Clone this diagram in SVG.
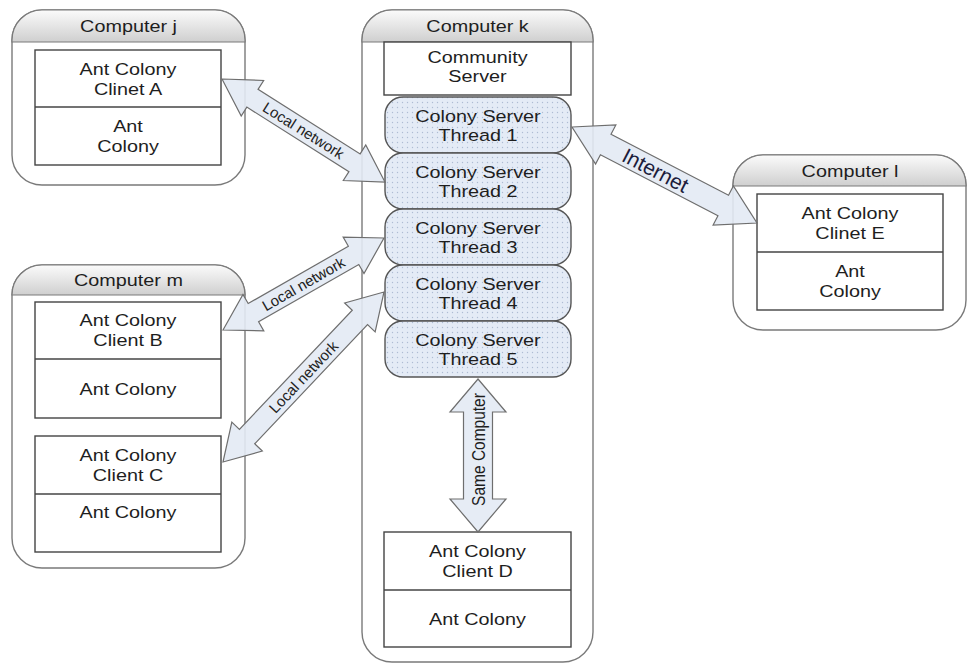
<svg xmlns="http://www.w3.org/2000/svg" width="968" height="663" viewBox="0 0 968 663">
<defs>
<linearGradient id="hdr" x1="0" y1="0" x2="0" y2="1">
<stop offset="0" stop-color="#fbfbfb"/>
<stop offset="1" stop-color="#cfcfcf"/>
</linearGradient>
<pattern id="dots" width="5" height="5" patternUnits="userSpaceOnUse">
<rect width="5" height="5" fill="#e4ebf6"/>
<circle cx="2.5" cy="2.5" r="0.7" fill="#aebcd4"/>
</pattern>
<style>
.outer{fill:#fff;stroke:#7a7a7a;stroke-width:1.4}
.hdr{fill:url(#hdr);stroke:#7a7a7a;stroke-width:1.2}
.box{fill:#fff;stroke:#444;stroke-width:1.4}
.div{stroke:#444;stroke-width:1.4}
.thr{fill:url(#dots);stroke:#555;stroke-width:1.4}
.t{font-family:"Liberation Sans",Arial,sans-serif;font-size:16.5px;fill:#1e1e1e;text-anchor:middle}
.arr{fill:#e3eaf4;fill-opacity:0.9;stroke:#6e6e6e;stroke-width:1.2;stroke-linejoin:miter}
.lbl{font-family:"Liberation Sans",Arial,sans-serif;font-size:15px;fill:#222;text-anchor:middle}
.inet{font-family:"Liberation Sans",Arial,sans-serif;font-size:21px;fill:#1c1c3c;text-anchor:middle}
</style>
</defs>
<rect width="968" height="663" fill="#fff"/>

<g id="computer-j">
<rect class="outer" x="12" y="10" width="233" height="175" rx="30"/>
<path class="hdr" d="M12,42 V40 A30,30 0 0 1 42,10 H215 A30,30 0 0 1 245,40 V42 Z"/>
<text class="t" transform="matrix(1.2 0 0 1 128.5 32)">Computer j</text>
<rect class="box" x="35" y="50" width="186" height="115"/>
<line class="div" x1="35" y1="107" x2="221" y2="107"/>
<text class="t" transform="matrix(1.2 0 0 1 128 75)">Ant Colony</text>
<text class="t" transform="matrix(1.2 0 0 1 128 95)">Clinet A</text>
<text class="t" transform="matrix(1.2 0 0 1 128 132)">Ant</text>
<text class="t" transform="matrix(1.2 0 0 1 128 152)">Colony</text>
</g>

<g id="computer-m">
<rect class="outer" x="12" y="265" width="233" height="303" rx="30"/>
<path class="hdr" d="M12,295 A30,30 0 0 1 42,265 H215 A30,30 0 0 1 245,295 Z"/>
<text class="t" transform="matrix(1.2 0 0 1 128.5 286)">Computer m</text>
<rect class="box" x="35" y="302" width="186" height="116"/>
<line class="div" x1="35" y1="359" x2="221" y2="359"/>
<text class="t" transform="matrix(1.2 0 0 1 128 326)">Ant Colony</text>
<text class="t" transform="matrix(1.2 0 0 1 128 346)">Client B</text>
<text class="t" transform="matrix(1.2 0 0 1 128 394.5)">Ant Colony</text>
<rect class="box" x="35" y="436" width="186" height="116"/>
<line class="div" x1="35" y1="494" x2="221" y2="494"/>
<text class="t" transform="matrix(1.2 0 0 1 128 461)">Ant Colony</text>
<text class="t" transform="matrix(1.2 0 0 1 128 481)">Client C</text>
<text class="t" transform="matrix(1.2 0 0 1 128 518)">Ant Colony</text>
</g>

<g id="computer-k">
<rect class="outer" x="362" y="10" width="231" height="652" rx="30"/>
<path class="hdr" d="M362,42 V40 A30,30 0 0 1 392,10 H563 A30,30 0 0 1 593,40 V42 Z"/>
<text class="t" transform="matrix(1.2 0 0 1 477.5 32)">Computer k</text>
<g id="community-server">
<rect class="box" x="384" y="42" width="187" height="53"/>
<text class="t" transform="matrix(1.2 0 0 1 477.5 63)">Community</text>
<text class="t" transform="matrix(1.2 0 0 1 477.5 82)">Server</text>
</g>
<g id="thread-1">
<rect class="thr" x="385" y="97" width="186" height="56" rx="18"/>
<text class="t" transform="matrix(1.2 0 0 1 478 122)">Colony Server</text>
<text class="t" transform="matrix(1.2 0 0 1 478 141)">Thread 1</text>
</g>
<g id="thread-2">
<rect class="thr" x="385" y="153" width="186" height="56" rx="18"/>
<text class="t" transform="matrix(1.2 0 0 1 478 178)">Colony Server</text>
<text class="t" transform="matrix(1.2 0 0 1 478 197)">Thread 2</text>
</g>
<g id="thread-3">
<rect class="thr" x="385" y="209" width="186" height="56" rx="18"/>
<text class="t" transform="matrix(1.2 0 0 1 478 234)">Colony Server</text>
<text class="t" transform="matrix(1.2 0 0 1 478 253)">Thread 3</text>
</g>
<g id="thread-4">
<rect class="thr" x="385" y="265" width="186" height="56" rx="18"/>
<text class="t" transform="matrix(1.2 0 0 1 478 290)">Colony Server</text>
<text class="t" transform="matrix(1.2 0 0 1 478 309)">Thread 4</text>
</g>
<g id="thread-5">
<rect class="thr" x="385" y="321" width="186" height="56" rx="18"/>
<text class="t" transform="matrix(1.2 0 0 1 478 346)">Colony Server</text>
<text class="t" transform="matrix(1.2 0 0 1 478 365)">Thread 5</text>
</g>
<g id="client-d">
<rect class="box" x="384" y="532" width="187" height="115"/>
<line class="div" x1="384" y1="590" x2="571" y2="590"/>
<text class="t" transform="matrix(1.2 0 0 1 477.5 557)">Ant Colony</text>
<text class="t" transform="matrix(1.2 0 0 1 477.5 577)">Client D</text>
<text class="t" transform="matrix(1.2 0 0 1 477.5 624.5)">Ant Colony</text>
</g>
</g>

<g id="computer-l">
<rect class="outer" x="733" y="155" width="233" height="175" rx="30"/>
<path class="hdr" d="M733,186 V185 A30,30 0 0 1 763,155 H936 A30,30 0 0 1 966,185 V186 Z"/>
<text class="t" transform="matrix(1.2 0 0 1 850 176.5)">Computer l</text>
<rect class="box" x="757" y="194" width="186" height="116"/>
<line class="div" x1="757" y1="252" x2="943" y2="252"/>
<text class="t" transform="matrix(1.2 0 0 1 850 219)">Ant Colony</text>
<text class="t" transform="matrix(1.2 0 0 1 850 239)">Clinet E</text>
<text class="t" transform="matrix(1.2 0 0 1 850 277)">Ant</text>
<text class="t" transform="matrix(1.2 0 0 1 850 297)">Colony</text>
</g>

<g id="connectors">
<g transform="translate(222,79) rotate(32.3)">
<polygon class="arr" points="0,0 36,-21 36,-10.5 156.8,-10.5 156.8,-21 192.8,0 156.8,21 156.8,10.5 36,10.5 36,21"/>
<text class="lbl" x="96.4" y="0" dy="0.35em">Local network</text>
</g>
<g transform="translate(223,330) rotate(-29.75)">
<polygon class="arr" points="0,0 35,-21 35,-10.5 150.4,-10.5 150.4,-21 185.4,0 150.4,21 150.4,10.5 35,10.5 35,21"/>
<text class="lbl" x="92.7" y="0" dy="0.35em">Local network</text>
</g>
<g transform="translate(223,462) rotate(-46.56)">
<polygon class="arr" points="0,0 35,-21 35,-10.5 199.1,-10.5 199.1,-21 234.1,0 199.1,21 199.1,10.5 35,10.5 35,21"/>
<text class="lbl" x="117" y="0" dy="0.35em">Local network</text>
</g>
<g transform="translate(572,127) rotate(27.43)">
<polygon class="arr" points="0,0 38,-22 38,-11.5 170.4,-11.5 170.4,-22 208.4,0 170.4,22 170.4,11.5 38,11.5 38,22"/>
<text class="inet" x="94" y="0" dy="0.35em">Internet</text>
</g>
<g transform="translate(478,379) rotate(90)">
<polygon class="arr" points="0,0 33,-28 33,-14.5 120,-14.5 120,-28 153,0 120,28 120,14.5 33,14.5 33,28"/>
<text class="t" transform="translate(70.5,0) rotate(180) scale(1,1.2)" x="0" y="0" dy="0.35em" style="font-size:15.5px">Same Computer</text>
</g>
</g>
</svg>
